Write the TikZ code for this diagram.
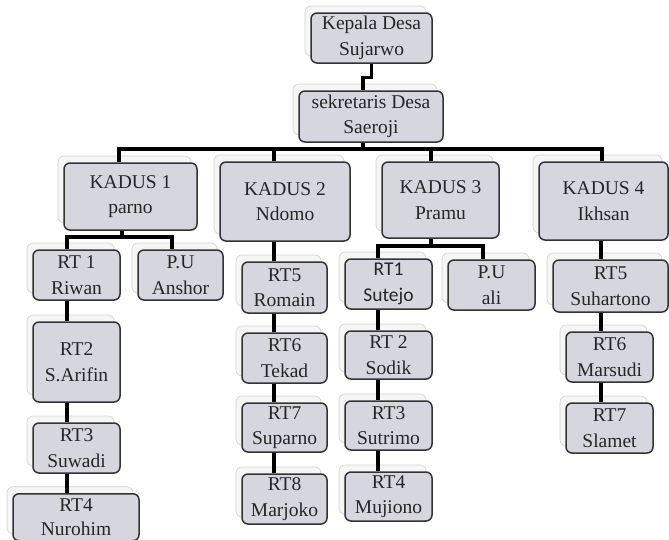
\documentclass[tikz,border=0pt]{standalone}
\usepackage{fontspec}
\setmainfont{Liberation Serif}
\newfontfamily\calibri{Carlito}
\usetikzlibrary{shadows}
\definecolor{boxfill}{RGB}{214,214,223}
\definecolor{ghost}{RGB}{246,246,246}
\tikzset{
  orgbox/.style={draw=black!80, line width=1.5pt, fill=boxfill, rounded corners=6pt,
    align=center, inner sep=1pt, text=black!85, font=\fontsize{19.5}{25.5}\selectfont,
    copy shadow={shadow xshift=-6pt, shadow yshift=7pt, fill=ghost, draw=black!18, line width=0.6pt}},
  link/.style={line width=3.4pt, black}
}

\begin{document}
\begin{tikzpicture}[x=1pt, y=-1pt]
			%%%%% START %%%%%
			\useasboundingbox (0,0) rectangle (669,539);
			
			\node[orgbox, minimum width=121pt, minimum height=50pt] (kepala) at (371.5, 38) {Kepala Desa\\Sujarwo};
			\node[orgbox, minimum width=144pt, minimum height=51pt] (sekre) at (371, 116.5) {sekretaris Desa\\Saeroji};
			
			\node[orgbox, minimum width=133pt, minimum height=67pt] (kadus1) at (130.5, 196.5) {KADUS 1\\parno};
			\node[orgbox, minimum width=130pt, minimum height=79pt] (kadus2) at (285, 201.5) {KADUS 2\\Ndomo};
			\node[orgbox, minimum width=117pt, minimum height=76pt] (kadus3) at (440.5, 200) {KADUS 3\\Pramu};
			\node[orgbox, minimum width=129pt, minimum height=78pt] (kadus4) at (603.5, 201) {KADUS 4\\Ikhsan};
			
			% kadus 1
			\node[orgbox, minimum width=87pt, minimum height=50pt] (rt1a) at (76.5, 275) {RT 1\\Riwan};
			\node[orgbox, minimum width=85pt, minimum height=50pt] (pua) at (180.5, 275) {P.U\\Anshor};
			\node[orgbox, minimum width=87pt, minimum height=80pt] (rt2a) at (76.5, 362) {RT2\\S.Arifin};
			\node[orgbox, minimum width=87pt, minimum height=50pt] (rt3a) at (76.5, 448) {RT3\\Suwadi};
			\node[orgbox, minimum width=126pt, minimum height=47pt, anchor=north, font=\fontsize{19.5}{24}\selectfont] (rt4a) at (76, 493) {RT4\\Nurohim};
			
			% kadus 2
			\node[orgbox, minimum width=85pt, minimum height=51pt] (rt5b) at (284.5, 287.5) {RT5\\Romain};
			\node[orgbox, minimum width=85pt, minimum height=50pt] (rt6b) at (284.5, 358) {RT6\\Tekad};
			\node[orgbox, minimum width=85pt, minimum height=49pt] (rt7b) at (284.5, 427.5) {RT7\\Suparno};
			\node[orgbox, minimum width=85pt, minimum height=50pt] (rt8b) at (284.5, 499) {RT8\\Marjoko};
			
			% kadus 3
			\node[orgbox, minimum width=87pt, minimum height=50pt, font=\calibri\fontsize{19.5}{25.5}\selectfont] (rt1c) at (388.5, 284) {RT1\\Sutejo};
			\node[orgbox, minimum width=87pt, minimum height=50pt] (puc) at (491.5, 285) {P.U\\ali};
			\node[orgbox, minimum width=87pt, minimum height=48pt] (rt2c) at (388.5, 355) {RT 2\\Sodik};
			\node[orgbox, minimum width=87pt, minimum height=49pt] (rt3c) at (388.5, 425.5) {RT3\\Sutrimo};
			\node[orgbox, minimum width=87pt, minimum height=49pt] (rt4c) at (388.5, 496.5) {RT4\\Mujiono};
			
			% kadus 4
			\node[orgbox, minimum width=115pt, minimum height=52pt] (rt5d) at (610.5, 286) {RT5\\Suhartono};
			\node[orgbox, minimum width=87pt, minimum height=50pt] (rt6d) at (609.5, 357) {RT6\\Marsudi};
			\node[orgbox, minimum width=87pt, minimum height=50pt] (rt7d) at (609.5, 428) {RT7\\Slamet};
			
			% connectors
			\coordinate (d0) at (363, 149);
			\coordinate (d1) at (119, 149);
			\coordinate (d2) at (274, 149);
			\coordinate (d3) at (431, 149);
			\coordinate (d4) at (602, 149);
			\coordinate (e1) at (122, 237);
			\coordinate (c1) at (67, 237);
			\coordinate (p1) at (172, 237);
			\coordinate (e3) at (431, 246);
			\coordinate (c3) at (378, 246);
			\coordinate (p3) at (483, 246);
			\coordinate (c4) at (601, 0);
			
			\draw[link] (kepala.south) -- ++(0,14) -| ([xshift=-8pt]sekre.north);
			\draw[link] (sekre.south -| d0) -- (d0);
			\draw[link] (kadus1.north -| d1) -- (d1) -- (d4) -- (kadus4.north -| d4);
			\draw[link] (d2) -- (kadus2.north -| d2);
			\draw[link] (d3) -- (kadus3.north -| d3);
			
			\draw[link] (kadus1.south -| e1) -- (e1);
			\draw[link] (rt1a.north -| c1) -- (c1) -- (p1) -- (pua.north -| p1);
			\draw[link] (rt1a.south -| c1) -- (rt2a.north -| c1);
			\draw[link] (rt2a.south -| c1) -- (rt3a.north -| c1);
			\draw[link] (rt3a.south -| c1) -- (rt4a.north -| c1);
			
			\draw[link] (kadus2.south -| d2) -- (rt5b.north -| d2);
			\draw[link] (rt5b.south -| d2) -- (rt6b.north -| d2);
			\draw[link] (rt6b.south -| d2) -- (rt7b.north -| d2);
			\draw[link] (rt7b.south -| d2) -- (rt8b.north -| d2);
			
			\draw[link] (kadus3.south -| e3) -- (e3);
			\draw[link] (rt1c.north -| c3) -- (c3) -- (p3) -- (puc.north -| p3);
			\draw[link] (rt1c.south -| c3) -- (rt2c.north -| c3);
			\draw[link] (rt2c.south -| c3) -- (rt3c.north -| c3);
			\draw[link] (rt3c.south -| c3) -- (rt4c.north -| c3);
			
			\draw[link] (kadus4.south -| c4) -- (rt5d.north -| c4);
			\draw[link] (rt5d.south -| c4) -- (rt6d.north -| c4);
			\draw[link] (rt6d.south -| c4) -- (rt7d.north -| c4);
			
			%%%%% END %%%%%
\end{tikzpicture}
\end{document}
